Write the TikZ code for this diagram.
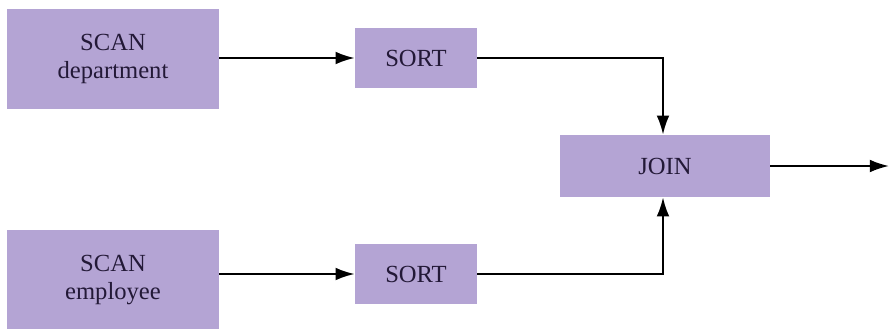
\documentclass[tikz,border=0pt]{standalone}
\usepackage{fontspec}
\setmainfont{Liberation Serif}
\newfontfamily\opfont{Liberation Serif}
\usetikzlibrary{arrows.meta}

\definecolor{opbox}{RGB}{180,164,212}
\definecolor{optext}{RGB}{35,25,55}

\begin{document}
\begin{tikzpicture}[x=0.025cm, y=-0.025cm,
    op/.style={fill=opbox, text=optext, align=center, inner sep=0pt,
               font=\opfont\fontsize{17.5}{20}\selectfont},
    scanbox/.style={op, minimum width=5.3cm, minimum height=2.5cm},
    sortbox/.style={op, minimum width=3.05cm, minimum height=1.5cm},
    joinbox/.style={op, minimum width=5.25cm, minimum height=1.55cm},
    flow/.style={line width=1.5pt, -{Latex[length=4.8mm, width=3.2mm]}}]
    \useasboundingbox (0,0) rectangle (890,329);

    % Operators
    \node[scanbox] (scandep) at (113,59) {SCAN\\department};
    \node[sortbox] (sortdep) at (416,58) {SORT};
    \node[scanbox] (scanemp) at (113,280) {SCAN\\employee};
    \node[sortbox] (sortemp) at (416,274) {SORT};
    \node[joinbox] (join) at (665,166) {JOIN};
    \coordinate (out) at (889,166);

    % Data flow
    \draw[flow] (scandep.east |- sortdep.west) -- (sortdep.west);
    \draw[flow] (scanemp.east |- sortemp.west) -- (sortemp.west);
    \draw[flow] (sortdep.east) -| ([xshift=-0.05cm]join.north);
    \draw[flow] (sortemp.east) -| ([xshift=-0.05cm]join.south);
    \draw[flow] (join.east) -- (out);
\end{tikzpicture}
\end{document}
